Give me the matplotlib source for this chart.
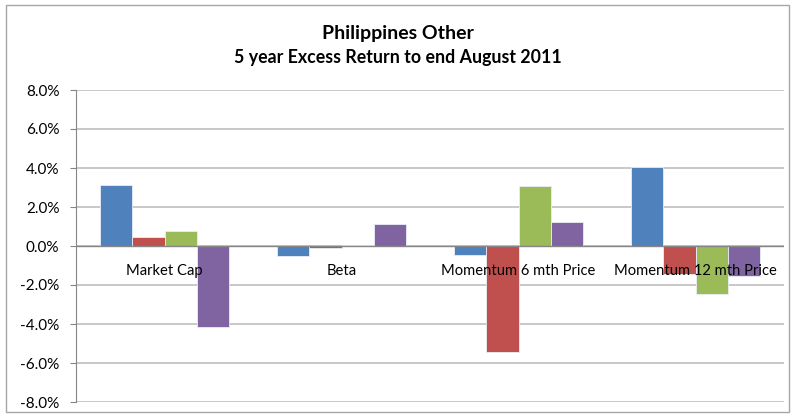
import matplotlib
matplotlib.use("Agg")
import matplotlib.pyplot as plt
from matplotlib.patches import Rectangle
import numpy as np

categories = ["Market Cap", "Beta", "Momentum 6 mth Price", "Momentum 12 mth Price"]
series1 = [3.11, -0.51, -0.48, 4.07]
series2 = [0.45, -0.09, -5.42, -1.44]
series3 = [0.79, 0.03, 3.08, -2.48]
series4 = [-4.17, 1.14, 1.23, -1.52]
yticks = [-8, -6, -4, -2, 0, 2, 4, 6, 8]

colors = ["#4F81BD", "#C0504D", "#9BBB59", "#8064A2"]
all_series = [series1, series2, series3, series4]

plt.rcParams['font.family'] = ['Lato', 'DejaVu Sans']

fig = plt.figure(figsize=(7.95, 4.15), dpi=100)
ax = fig.add_axes([76/795, 13/415, 708/795, 312/415])

n = len(categories)
x = np.arange(n)
w = 1 / 5.5
for i, (s, c) in enumerate(zip(all_series, colors)):
    ax.bar(x - 2 * w + (i + 0.5) * w, s, width=w, color=c, edgecolor="#E8EEF6",
           linewidth=0.6, zorder=3)

ax.set_xlim(-0.5, n - 0.5)
ax.set_ylim(-8, 8)
ax.set_yticks(yticks)
ax.set_yticklabels([f"{v:.1f}%" for v in yticks], fontsize=11)
ax.tick_params(axis='y', length=4, color="#868686", pad=8)
ax.set_xticks([])
ax.grid(axis='y', color="#BFBFBF", linewidth=1.2, zorder=0)
for sp in ["top", "right", "bottom"]:
    ax.spines[sp].set_visible(False)
ax.spines["left"].set_color("#868686")
ax.axhline(0, color="#868686", linewidth=1, zorder=4)

for xi, lab in zip(x, categories):
    ax.annotate(lab, xy=(xi, 0), xytext=(0, -18), textcoords="offset points",
                ha="center", va="center", fontsize=10.6, zorder=6)

fig.text(0.5, 1 - 33/415, "Philippines Other", ha="center", va="center",
         fontsize=14, fontweight="bold")
fig.text(0.5, 1 - 58/415, "5 year Excess Return to end August 2011", ha="center",
         va="center", fontsize=12.8, fontweight="bold")

fig.patches.append(Rectangle((6/795, 3/415), 783/795, 407/415, transform=fig.transFigure,
                             fill=False, edgecolor="#A6A6A6", linewidth=1))

fig.savefig("out.png", dpi=100)
